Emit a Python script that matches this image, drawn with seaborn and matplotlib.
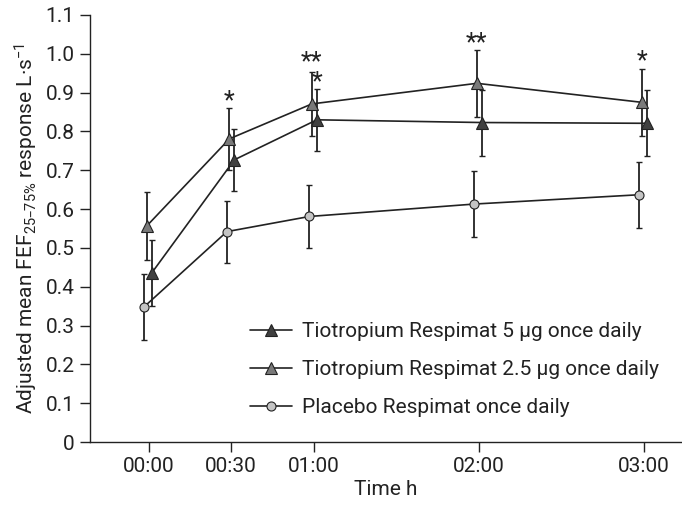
import matplotlib
matplotlib.use("Agg")
import matplotlib.pyplot as plt
import seaborn as sns

# time points (h) and tick labels
time_h = [0, 0.5, 1, 2, 3]
time_labels = ["00:00", "00:30", "01:00", "02:00", "03:00"]

# adjusted mean FEF25-75% response (L/s) and SE
tio5_mean = [0.436, 0.727, 0.830, 0.823, 0.821]
tio5_se = [0.085, 0.080, 0.080, 0.085, 0.085]
tio25_mean = [0.557, 0.781, 0.871, 0.924, 0.875]
tio25_se = [0.087, 0.080, 0.083, 0.086, 0.087]
plac_mean = [0.349, 0.542, 0.581, 0.613, 0.637]
plac_se = [0.085, 0.080, 0.081, 0.084, 0.085]

# significance marks above the error bars
tio5_sig = ["", "", "*", "", ""]
tio25_sig = ["", "*", "**", "**", "*"]

y_ticks = [0, 0.1, 0.2, 0.3, 0.4, 0.5, 0.6, 0.7, 0.8, 0.9, 1.0, 1.1]
y_labels = ["0", "0.1", "0.2", "0.3", "0.4", "0.5", "0.6", "0.7", "0.8", "0.9", "1.0", "1.1"]

sns.set_style("ticks")
plt.rcParams["font.family"] = ["Roboto", "DejaVu Sans"]
plt.rcParams["mathtext.default"] = "regular"
plt.rcParams["font.size"] = 15

fig = plt.figure(figsize=(6.82, 5.12), dpi=100)
ax = fig.add_axes([90 / 682, 70 / 512, 592 / 682, 427 / 512])

ink = "#222222"
series = [
    ("Tiotropium Respimat 5 µg once daily", tio5_mean, tio5_se, 0.02, "^", "#404040", 8),
    ("Tiotropium Respimat 2.5 µg once daily", tio25_mean, tio25_se, -0.01, "^", "#7a7a7a", 8),
    ("Placebo Respimat once daily", plac_mean, plac_se, -0.025, "o", "#c4c4c4", 6.5),
]

handles = []
for label, mean, se, dx, mk, fc, ms in series:
    xs = [t + dx for t in time_h]
    sns.lineplot(x=xs, y=mean, ax=ax, color=ink, linewidth=1.2, marker=mk,
                 markersize=ms, markerfacecolor=fc, markeredgecolor=ink,
                 markeredgewidth=0.8, zorder=4)
    handles.append(ax.lines[-1])
    ax.errorbar(xs, mean, yerr=se, fmt="none", ecolor=ink, elinewidth=1.3,
                capsize=2, capthick=1.0, zorder=3)

# asterisks: 2.5 µg marks on top, 5 µg marks stacked underneath
dx25, dx5 = series[1][3], series[0][3]
for i, t in enumerate(time_h):
    lines = [s for s in (tio25_sig[i], tio5_sig[i]) if s]
    if not lines:
        continue
    if tio5_sig[i]:
        base = tio5_mean[i] + tio5_se[i]
    else:
        base = tio25_mean[i] + tio25_se[i]
    x = t + (dx25 if tio25_sig[i] else dx5)
    ax.text(x, base - 0.013, "\n".join(lines), ha="center", va="bottom",
            multialignment="right", linespacing=0.75, fontsize=18,
            color=ink, zorder=5)

ax.set_xlim(-0.355, 3.233)
ax.set_ylim(0, 1.1)
ax.set_xticks(time_h)
ax.set_xticklabels(time_labels)
ax.set_yticks(y_ticks)
ax.set_yticklabels(y_labels)
ax.tick_params(direction="out", length=7, width=1.0, color=ink, labelcolor=ink, pad=4)
for side in ["left", "bottom"]:
    ax.spines[side].set_linewidth(1.0)
    ax.spines[side].set_color(ink)
sns.despine(ax=ax)

ax.set_xlabel("Time h", labelpad=3, color=ink)
ax.set_ylabel("Adjusted mean FEF$_{25–75\\%}$ response L·s$^{-1}$", labelpad=4, color=ink)

ax.legend(handles, [s[0] for s in series], frameon=False, loc="upper left",
          bbox_to_anchor=(240 / 682, 1 - 312 / 512), bbox_transform=fig.transFigure,
          borderpad=0, handlelength=2.0, handletextpad=0.5, labelspacing=0.9,
          fontsize=15, labelcolor=ink)

fig.savefig("out.png", dpi=100)
